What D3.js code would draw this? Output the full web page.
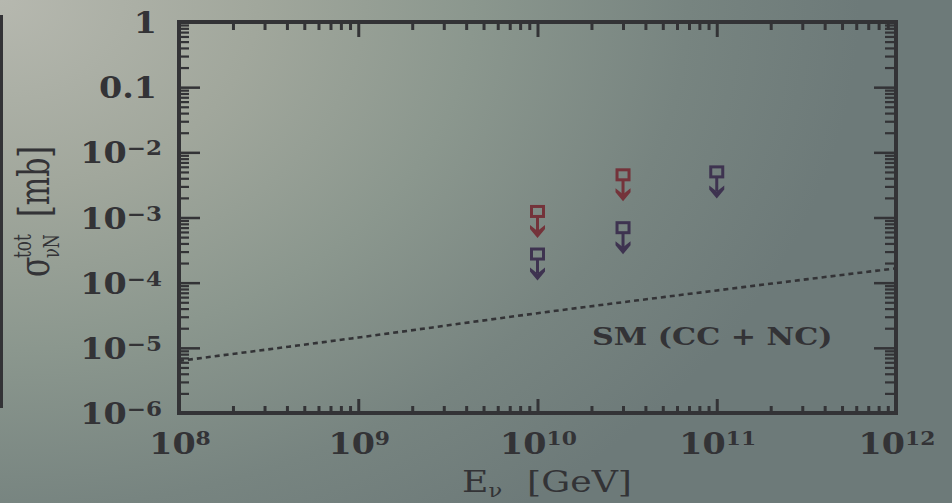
<!DOCTYPE html>
<html>
<head>
<meta charset="utf-8">
<script src="https://cdn.jsdelivr.net/npm/d3@7/dist/d3.min.js"></script>
<style>
  html, body { margin: 0; padding: 0; background: #8a968d; }
  svg { display: block; }
</style>
</head>
<body>
<svg id="chart" width="952" height="503"></svg>
<script>
// ---------------- data ----------------
const xTickValues = [1e8, 1e9, 1e10, 1e11, 1e12];
const xTickExponents = ["8", "9", "10", "11", "12"];
const yTickValues = [1, 0.1, 1e-2, 1e-3, 1e-4, 1e-5, 1e-6];
const yTickBases = ["1", "0.1", "10", "10", "10", "10", "10"];
const yTickExponents = ["", "", "\u22122", "\u22123", "\u22124", "\u22125", "\u22126"];

// Standard Model (CC + NC) cross-section curve
const smEnergy = [1e8, 1e9, 1e10, 1e11, 1e12];
const smSigma = [6.3e-6, 1.44e-5, 3.4e-5, 7.6e-5, 1.66e-4];

// upper limits (red series)
const redEnergy = [1e10, 3e10];
const redLimit = [1.26e-3, 4.6e-3];
// upper limits (purple series)
const purpleEnergy = [1e10, 3e10, 1e11];
const purpleLimit = [2.8e-4, 7.1e-4, 5.1e-3];

const smLabel = "SM (CC + NC)";

// ---------------- drawing ----------------
const svg = d3.select("#chart");
const W = 952, H = 503;
const L = 179, R = 896, T = 22, B = 413;
const ink = "#333336";

const defs = svg.append("defs");
const grad = defs.append("radialGradient")
  .attr("id", "bg").attr("gradientUnits", "userSpaceOnUse")
  .attr("cx", 0).attr("cy", 0).attr("r", 860).attr("fx", 0).attr("fy", 0)
  .attr("gradientTransform", "scale(1,0.74)");
[[0, "#b6b8af"], [0.3, "#a1a79c"], [0.55, "#8b978e"], [0.8, "#778480"], [1, "#6d7a79"]]
  .forEach(([o, c]) => grad.append("stop").attr("offset", o).attr("stop-color", c));
svg.append("rect").attr("width", W).attr("height", H).attr("fill", "url(#bg)");

// left dark bar
svg.append("rect").attr("x", 0).attr("y", 15).attr("width", 3).attr("height", 393).attr("fill", ink);

const x = d3.scaleLog().domain([1e8, 1e12]).range([L, R]);
const y = d3.scaleLog().domain([1e-6, 1]).range([B, T]);

const minorX = x.ticks().filter(v => !xTickValues.some(m => Math.abs(m - v) / m < 1e-9));
const minorY = y.ticks().filter(v => !yTickValues.some(m => Math.abs(m - v) / m < 1e-9));

function styleAxis(g, w) {
  g.select(".domain").remove();
  g.selectAll("line").attr("stroke", ink).attr("stroke-width", w);
  g.selectAll("text").remove();
}

// bottom
svg.append("g").attr("transform", `translate(0,${B})`)
  .call(d3.axisBottom(x).tickValues(xTickValues).tickSize(-14).tickFormat(""))
  .call(g => styleAxis(g, 3));
svg.append("g").attr("transform", `translate(0,${B})`)
  .call(d3.axisBottom(x).tickValues(minorX).tickSize(-7).tickFormat(""))
  .call(g => styleAxis(g, 3));
// top
svg.append("g").attr("transform", `translate(0,${T})`)
  .call(d3.axisTop(x).tickValues(xTickValues).tickSize(-15).tickFormat(""))
  .call(g => styleAxis(g, 3));
svg.append("g").attr("transform", `translate(0,${T})`)
  .call(d3.axisTop(x).tickValues(minorX).tickSize(-8).tickFormat(""))
  .call(g => styleAxis(g, 3));
// left
svg.append("g").attr("transform", `translate(${L},0)`)
  .call(d3.axisLeft(y).tickValues(yTickValues).tickSize(-21).tickFormat(""))
  .call(g => styleAxis(g, 2.5));
svg.append("g").attr("transform", `translate(${L},0)`)
  .call(d3.axisLeft(y).tickValues(minorY).tickSize(-10).tickFormat(""))
  .call(g => styleAxis(g, 2.2));
// right
svg.append("g").attr("transform", `translate(${R},0)`)
  .call(d3.axisRight(y).tickValues(yTickValues).tickSize(-22).tickFormat(""))
  .call(g => styleAxis(g, 2.5));
svg.append("g").attr("transform", `translate(${R},0)`)
  .call(d3.axisRight(y).tickValues(minorY).tickSize(-11).tickFormat(""))
  .call(g => styleAxis(g, 2.2));

// frame
svg.append("rect").attr("x", L).attr("y", T).attr("width", R - L).attr("height", B - T)
  .attr("fill", "none").attr("stroke", ink).attr("stroke-width", 4);

const serif = "'DejaVu Serif', serif";

// x tick labels
xTickValues.forEach((v, i) => {
  const t = svg.append("text")
    .attr("transform", `translate(${x(v) + 1},${454}) scale(1.15,1)`)
    .attr("text-anchor", "middle")
    .attr("font-family", serif).attr("font-weight", "bold")
    .attr("font-size", 29).attr("fill", ink);
  t.append("tspan").text("10");
  t.append("tspan").attr("font-size", 19).attr("dy", -9).text(xTickExponents[i]);
});

// y tick labels
yTickValues.forEach((v, i) => {
  const t = svg.append("text")
    .attr("transform", `translate(${yTickExponents[i] ? 162 : 157},${y(v) + 11}) scale(1.15,1)`)
    .attr("text-anchor", "end")
    .attr("font-family", serif).attr("font-weight", "bold")
    .attr("font-size", 29).attr("fill", ink);
  t.append("tspan").text(yTickBases[i]);
  if (yTickExponents[i]) t.append("tspan").attr("font-size", 20).attr("dy", -8).text(yTickExponents[i]);
});

// SM curve
svg.append("path")
  .datum(smEnergy.map((e, i) => [e, smSigma[i]]))
  .attr("d", d3.line().x(d => x(d[0])).y(d => y(d[1])).curve(d3.curveMonotoneX))
  .attr("fill", "none").attr("stroke", ink).attr("stroke-width", 2.6)
  .attr("stroke-dasharray", "5,4");

// SM label
svg.append("text")
  .attr("transform", `translate(592,345) scale(1.26,1)`)
  .attr("font-family", serif).attr("font-weight", "bold")
  .attr("font-size", 24).attr("fill", ink).text(smLabel);

// upper-limit markers
function drawLimits(energy, limit, color) {
  const g = svg.append("g").selectAll("g")
    .data(energy.map((e, i) => [e, limit[i]]))
    .join("g")
    .attr("transform", d => `translate(${x(d[0])},${y(d[1])})`);
  g.append("rect").attr("x", -6).attr("y", -4.5).attr("width", 12).attr("height", 10)
    .attr("fill", "none").attr("stroke", color).attr("stroke-width", 3);
  g.append("line").attr("x1", 0).attr("x2", 0).attr("y1", 6).attr("y2", 20)
    .attr("stroke", color).attr("stroke-width", 3);
  g.append("path").attr("d", "M-7.5,14 L0,20 L7.5,14 L7.5,18 L0,27 L-7.5,18 Z")
    .attr("fill", color);
}
drawLimits(redEnergy, redLimit, "#74333a");
drawLimits(purpleEnergy, purpleLimit, "#3e3350");

// x-axis title
const xt = svg.append("text")
  .attr("transform", `translate(462,492) scale(1.25,1)`)
  .attr("font-family", serif).attr("font-size", 29).attr("fill", ink);
xt.append("tspan").text("E");
xt.append("tspan").attr("font-size", 18).attr("dy", 5).text("\u03bd");
xt.append("tspan").attr("dy", -5).attr("dx", 20).text("[GeV]");

// y-axis title (rotated)
const yt = svg.append("g")
  .attr("transform", `translate(49,277) rotate(-90) scale(1,1.45)`)
  .attr("font-family", serif).attr("fill", ink);
yt.append("text").attr("x", 0).attr("y", 0).attr("font-size", 30).text("\u03c3");
yt.append("text").attr("x", 19).attr("y", -12.5).attr("font-size", 17).text("tot");
yt.append("text").attr("x", 19).attr("y", 7).attr("font-size", 16).text("\u03bdN");
yt.append("text").attr("x", 60).attr("y", 0).attr("font-size", 30).text("[mb]");
</script>
</body>
</html>
